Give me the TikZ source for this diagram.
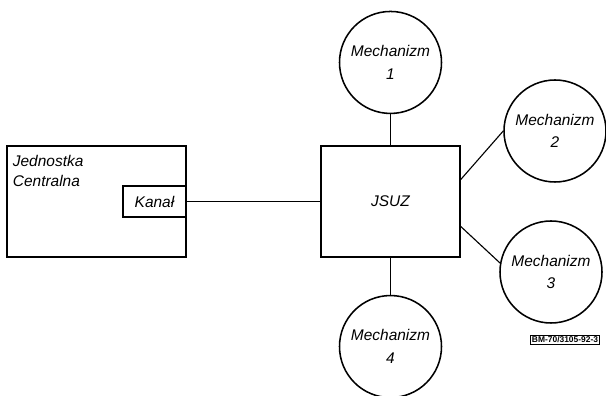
\documentclass[tikz,border=0pt]{standalone}
\usepackage{fontspec}
\setmainfont{Liberation Sans}
\usetikzlibrary{positioning}

\begin{document}
\begin{tikzpicture}[
  txt/.style={font=\fontsize{11}{16}\selectfont\itshape},
  blok/.style={rectangle,draw,line width=1.1pt,align=center,txt},
  mech/.style={circle,draw,line width=1.1pt,minimum size=2.55cm,inner sep=0pt,align=center,txt},
  link/.style={line width=0.8pt}
]
\useasboundingbox (0,0) rectangle (15.15,9.9);
% jednostka centralna z kanalem
\node[blok,minimum width=4.475cm,minimum height=2.775cm] (cpu) at (2.4125,4.8625) {};
\node[anchor=north west,inner sep=0pt,align=left,font=\fontsize{11}{14}\selectfont\itshape]
  (cpulbl) at ([xshift=0.16cm,yshift=-0.25cm]cpu.north west) {Jednostka\\Centralna};
\node[blok,minimum width=1.575cm,minimum height=0.775cm,anchor=east] (kanal) at (cpu.east) {Kanał};
% JSUZ i mechanizmy
\node[blok,minimum width=3.475cm,minimum height=2.775cm] (jsuz) at (9.7625,4.8625) {JSUZ};
\node[mech,above=0.775cm of jsuz] (m1) {Mechanizm\\1};
\node[mech] (m2) at (13.875,6.625) {Mechanizm\\2};
\node[mech] (m3) at (13.775,3.1) {Mechanizm\\3};
\node[mech,below=0.925cm of jsuz] (m4) {Mechanizm\\4};
\draw[link] (kanal) -- (jsuz);
\draw[link] (jsuz) -- (m1);
\draw[link] ([yshift=0.55cm]jsuz.east) -- (m2.west);
\draw[link] ([yshift=-0.625cm]jsuz.east) -- (m3.170);
\draw[link] (jsuz) -- (m4);
% znak rysunku
\node[draw,line width=0.7pt,inner sep=1pt,font=\fontsize{6}{7}\selectfont\bfseries] (tag) at (14.125,1.4) {BM-70/3105-92-3};
\end{tikzpicture}
\end{document}
